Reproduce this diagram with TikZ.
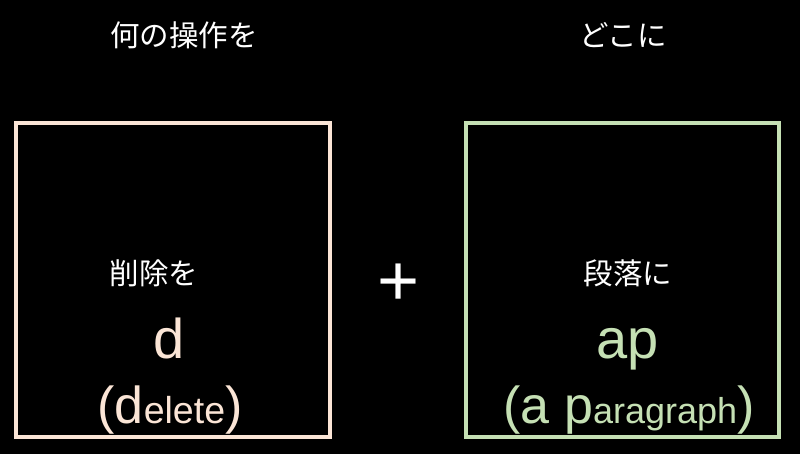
\documentclass[tikz,border=0pt]{standalone}
\usepackage{fontspec}
\setmainfont{Liberation Sans}
\newfontfamily\jafont{Noto Sans CJK JP}
\usetikzlibrary{positioning}

\definecolor{opcol}{HTML}{FBE5D6}
\definecolor{placecol}{HTML}{C5E0B4}

\newcommand{\keysize}{\fontsize{52}{56}\selectfont}
\newcommand{\restsize}{\fontsize{37.5}{42}\selectfont}
\newcommand{\pkeysize}{\fontsize{52}{56}\selectfont}
\newcommand{\prestsize}{\fontsize{36}{40}\selectfont}

\begin{document}
\begin{tikzpicture}[x=1pt,y=-1pt,inner sep=0pt,outer sep=0pt]
  \tikzstyle{box}=[draw,line width=4pt,minimum height=314pt]
  \tikzstyle{jatext}=[text=white,font=\jafont\fontsize{29.5}{33}\selectfont]
  \tikzstyle{keytext}=[anchor=base,font=\fontsize{56}{60}\selectfont]

  \fill[black] (0,0) rectangle (800,454);
  \useasboundingbox (0,0) rectangle (800,454);

  % Left block (operation)
  \node[box, draw=opcol, minimum width=314.5pt] (opbox) at (172.75,280) {};
  \node[jatext] (optitle) at (184,35) {何の操作を};
  \node[jatext] (oplabel) at (154,273) {削除を};
  \node[keytext, text=opcol] (opkey) at (169,358) {d};
  \node[anchor=base, text=opcol] (opword) at (170,423)
    {\keysize(d\restsize elete\keysize)};

  % Plus sign
  \node[text=white, font=\fontsize{72}{76}\selectfont] (plus) at (399,285) {+};

  % Right block (place)
  \node[box, draw=placecol, minimum width=313pt] (placebox) at (622.5,280) {};
  \node[jatext] (placetitle) at (623,35) {どこに};
  \node[jatext] (placelabel) at (628,273) {段落に};
  \node[keytext, text=placecol] (placekey) at (628,358) {ap};
  \node[anchor=base, text=placecol] (placeword) at (629,423)
    {\pkeysize(a p\prestsize aragraph\pkeysize)};
\end{tikzpicture}
\end{document}
